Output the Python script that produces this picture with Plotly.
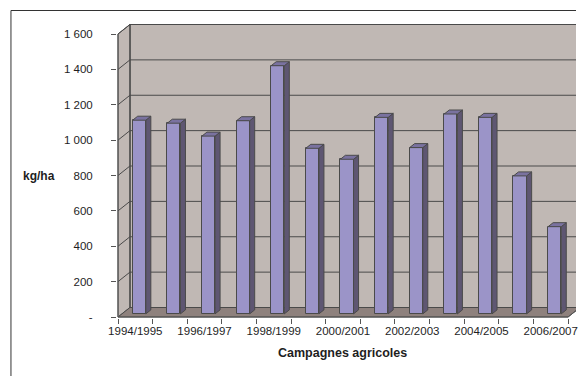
import plotly.graph_objects as go

# Rendement par campagne agricole (kg/ha)
campagnes = ["1994/1995", "1995/1996", "1996/1997", "1997/1998", "1998/1999",
             "1999/2000", "2000/2001", "2001/2002", "2002/2003", "2003/2004",
             "2004/2005", "2005/2006", "2006/2007"]
rendement = [1095, 1078, 1005, 1092, 1403, 936, 874, 1111, 940, 1130, 1111, 780, 493]

y_ticks = [0, 200, 400, 600, 800, 1000, 1200, 1400, 1600]
y_tick_text = ["-", "200", "400", "600", "800", "1 000", "1 200", "1 400", "1 600"]

# --- pseudo-3D geometry (data units) ---
W, H = 578, 376
PX_X = 34.77              # pixels per category
PX_Y = 283 / 1600         # pixels per kg/ha
DX = 12 / PX_X            # depth offset along x
DY = 9.5 / PX_Y           # depth offset along y
F0, FD = 0.33, 0.42       # bar front depth and bar depth (fraction of wall depth)
BW = 0.38                 # bar width
YMAX = 1600

ml, mt, mb = 117, 12, 58
plot_w, plot_h = W - ml, H - mt - mb
x0 = -0.5 - 1 / PX_X
x_range = [x0, x0 + plot_w / PX_X]
y0 = -1 / PX_Y
y_range = [y0, y0 + plot_h / PX_Y]

WALL = "#C0B8B4"
FLOOR = "#8E817D"
EDGE = "#4A4A4A"
FRONT = "#9B94C8"
SIDE = "#5E5672"
TOP = "#7A72A0"

n = len(campagnes)
xl, xr = -0.5, n - 0.5

shapes = []


def poly(pts, fill, line=EDGE, width=1, layer="below"):
    path = "M " + " L ".join(f"{x},{y}" for x, y in pts) + " Z"
    shapes.append(dict(type="path", path=path, xref="x", yref="y",
                       fillcolor=fill, line=dict(color=line, width=width), layer=layer))


def seg(xa, ya, xb, yb, color=EDGE, width=1, layer="below"):
    shapes.append(dict(type="line", xref="x", yref="y", x0=xa, y0=ya, x1=xb, y1=yb,
                       line=dict(color=color, width=width), layer=layer))


# back wall, left wall and floor
poly([(xl + DX, DY), (xr + DX, DY), (xr + DX, YMAX + DY), (xl + DX, YMAX + DY)], WALL)
poly([(xl, 0), (xl, YMAX), (xl + DX, YMAX + DY), (xl + DX, DY)], WALL)
poly([(xl, 0), (xr, 0), (xr + DX, DY), (xl + DX, DY)], FLOOR)

# gridlines on the walls
for v in y_ticks[1:]:
    seg(xl + DX, v + DY, xr + DX, v + DY)
    seg(xl, v, xl + DX, v + DY)
seg(xl + DX, DY, xl + DX, YMAX + DY)
# front value axis and category axis lines
seg(xl, 0, xl, YMAX, color="#555555")
seg(xl, 0, xr, 0, color="#555555")
seg(xr, 0, xr + DX, DY, color="#555555")

# outer chart frame (left and top edges; the rest runs off the page)
fx_left = (10.5 - ml) / plot_w
fy_top = 1 + (mt - 10.5) / plot_h
for xa, ya, xb, yb in [(fx_left, fy_top, 1.0, fy_top), (fx_left, fy_top, fx_left, -0.3)]:
    shapes.append(dict(type="line", xref="paper", yref="paper",
                       x0=xa, y0=ya, x1=xb, y1=yb,
                       line=dict(color="#333333", width=1), layer="above"))

fig = go.Figure()

xs = list(range(n))
fx, fy = F0 * DX, F0 * DY
sx, sy = FD * DX, FD * DY

# front faces of the columns
fig.add_trace(go.Bar(
    x=[i + fx for i in xs], y=rendement, base=fy, width=BW,
    marker=dict(color=FRONT, line=dict(color=EDGE, width=1)),
    hoverinfo="skip", showlegend=False,
))

# side and top faces of the columns
side_x, side_y, top_x, top_y = [], [], [], []
for i, v in zip(xs, rendement):
    xa = i + fx + BW / 2
    xb = i + fx - BW / 2
    side_x += [xa, xa + sx, xa + sx, xa, xa, None]
    side_y += [fy, fy + sy, fy + v + sy, fy + v, fy, None]
    top_x += [xb, xa, xa + sx, xb + sx, xb, None]
    top_y += [fy + v, fy + v, fy + v + sy, fy + v + sy, fy + v, None]

fig.add_trace(go.Scatter(x=side_x, y=side_y, mode="lines", fill="toself",
                         fillcolor=SIDE, line=dict(color=EDGE, width=1),
                         hoverinfo="skip", showlegend=False))
fig.add_trace(go.Scatter(x=top_x, y=top_y, mode="lines", fill="toself",
                         fillcolor=TOP, line=dict(color=EDGE, width=1),
                         hoverinfo="skip", showlegend=False))

# invisible trace carrying the labelled category axis
fig.add_trace(go.Scatter(x=xs, y=rendement, xaxis="x2", mode="markers",
                         marker=dict(opacity=0), hoverinfo="skip", showlegend=False))

FONT = "Liberation Sans, Arial, sans-serif"
TXT = "#1E1E1E"

fig.update_layout(
    width=W, height=H,
    margin=dict(l=ml, r=0, t=mt, b=mb),
    paper_bgcolor="white", plot_bgcolor="rgba(0,0,0,0)",
    font=dict(family=FONT, size=11.5, color=TXT),
    shapes=shapes,
    bargap=0,
    xaxis=dict(range=x_range, showgrid=False, zeroline=False, showline=False,
               tickmode="array", tickvals=[i - 0.5 for i in range(n + 1)],
               showticklabels=False, ticks="outside", ticklen=5,
               tickcolor="#555555", tickwidth=1),
    xaxis2=dict(range=x_range, overlaying="x", anchor="y", side="bottom",
                showgrid=False, zeroline=False, showline=False,
                tickmode="array", tickvals=xs[::2], ticktext=campagnes[::2],
                ticks="", ticklabelstandoff=4, ticklabeloverflow="allow",
                tickfont=dict(family=FONT, size=11.5, color=TXT)),
    yaxis=dict(range=y_range, showgrid=False, zeroline=False, showline=False,
               tickmode="array", tickvals=y_ticks, ticktext=y_tick_text,
               ticks="outside", ticklen=5, tickcolor="#555555", tickwidth=1,
               ticklabelstandoff=16,
               tickfont=dict(family=FONT, size=11.5, color=TXT)),
    annotations=[
        dict(text="<b>kg/ha</b>", x=39, y=176, xref="paper", yref="paper",
             showarrow=False, font=dict(family=FONT, size=12, color=TXT)),
        dict(text="<b>Campagnes agricoles</b>", x=343, y=353, showarrow=False,
             xref="paper", yref="paper",
             font=dict(family=FONT, size=12.5, color=TXT)),
    ],
)

# convert pixel positions of the axis titles to paper coordinates
for a in fig.layout.annotations:
    px, py = a.x, a.y
    a.x = (px - ml) / plot_w
    a.y = 1 - (py - mt) / plot_h
    a.xanchor = "center"
    a.yanchor = "middle"

fig.write_html("out.html")
